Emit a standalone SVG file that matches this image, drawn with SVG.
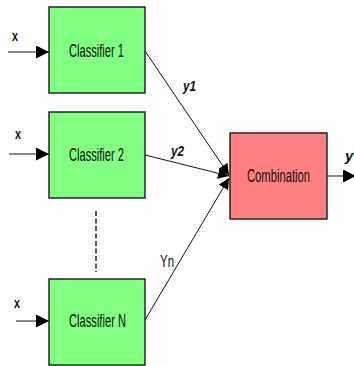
<svg xmlns="http://www.w3.org/2000/svg" width="354" height="366" viewBox="0 0 354 366">
<style>
.clf{fill:#80ff80;stroke:#1a1a1a;stroke-width:1.4}
.cmb{fill:#ff8080;stroke:#1a1a1a;stroke-width:1.4}
.lbl{font-family:"Liberation Sans",Arial,sans-serif;font-size:18px;fill:#111}
.in{font-family:"Liberation Sans",Arial,sans-serif;font-size:14px;font-weight:bold;fill:#111}
.yl{font-family:"Liberation Sans",Arial,sans-serif;font-size:15px;font-weight:bold;font-style:italic;fill:#111}
.yn{font-family:"Liberation Sans",Arial,sans-serif;font-size:16px;fill:#111}
.ln{stroke:#111;stroke-width:1;fill:none}
</style>
<defs>
<marker id="ah" markerUnits="userSpaceOnUse" markerWidth="13" markerHeight="13" refX="13" refY="6.5" orient="auto"><path d="M0,0 L13,6.5 L0,13 z" fill="#000"/></marker>
<marker id="ahs" markerUnits="userSpaceOnUse" markerWidth="11" markerHeight="11" refX="11" refY="5.5" orient="auto"><path d="M0,0 L11,5.5 L0,11 z" fill="#000"/></marker>
</defs>
<g id="connectors">
<line class="ln" x1="8" y1="52" x2="49" y2="52" marker-end="url(#ah)"/>
<line class="ln" x1="9" y1="154" x2="49" y2="154" marker-end="url(#ah)"/>
<line class="ln" x1="16" y1="321" x2="49" y2="321" marker-end="url(#ah)"/>
<line class="ln" x1="145" y1="51" x2="229" y2="175" marker-end="url(#ahs)"/>
<line class="ln" x1="145" y1="155" x2="229" y2="176" marker-end="url(#ahs)"/>
<line class="ln" x1="145" y1="320" x2="229" y2="178" marker-end="url(#ahs)"/>
<line class="ln" x1="327" y1="176" x2="356" y2="176" marker-end="url(#ah)"/>
<line x1="96" y1="211" x2="96" y2="272" stroke="#222" stroke-width="1.5" stroke-dasharray="5,2.5"/>
<text class="in" x="12" y="41" textLength="6" lengthAdjust="spacingAndGlyphs">x</text>
<text class="in" x="15" y="139" textLength="6" lengthAdjust="spacingAndGlyphs">x</text>
<text class="in" x="14" y="308" textLength="6" lengthAdjust="spacingAndGlyphs">x</text>
<text class="yl" x="183" y="91" textLength="13" lengthAdjust="spacingAndGlyphs">y1</text>
<text class="yl" x="171" y="156" textLength="13" lengthAdjust="spacingAndGlyphs">y2</text>
<text class="yn" x="160" y="267" textLength="14" lengthAdjust="spacingAndGlyphs">Yn</text>
<text class="yl" x="345" y="161">y</text>
</g>
<g id="classifier1">
<rect class="clf" x="49" y="7" width="96" height="86"/>
<text class="lbl" x="69" y="57" textLength="55" lengthAdjust="spacingAndGlyphs">Classifier 1</text>
</g>
<g id="classifier2">
<rect class="clf" x="49" y="112" width="96" height="86"/>
<text class="lbl" x="69" y="161" textLength="55" lengthAdjust="spacingAndGlyphs">Classifier 2</text>
</g>
<g id="classifierN">
<rect class="clf" x="49" y="279" width="96" height="86"/>
<text class="lbl" x="69" y="327" textLength="57" lengthAdjust="spacingAndGlyphs">Classifier N</text>
</g>
<g id="combination">
<rect class="cmb" x="230" y="133" width="97" height="86"/>
<text class="lbl" x="247" y="182" textLength="63" lengthAdjust="spacingAndGlyphs">Combination</text>
</g>
</svg>
